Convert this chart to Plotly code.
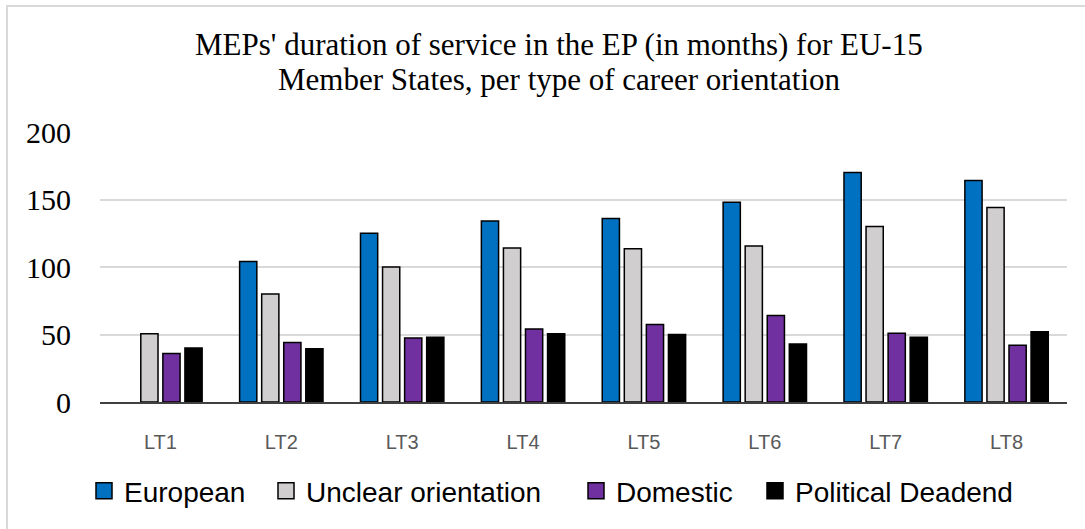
import plotly.graph_objects as go

categories = ["LT1", "LT2", "LT3", "LT4", "LT5", "LT6", "LT7", "LT8"]
european = [None, 104, 125, 134, 136, 148, 170, 164]
unclear = [50.5, 80, 100, 114, 113.5, 115.5, 130, 144]
domestic = [36, 44, 47.5, 54, 57.5, 64, 51, 42]
deadend = [40, 39.5, 48, 50.5, 50, 43, 48, 52]

title_lines = [
    "MEPs' duration of service in the EP (in months) for EU-15",
    "Member States, per type of career orientation",
]

series = [
    ("European", european, "#0070C0"),
    ("Unclear orientation", unclear, "#D0CECE"),
    ("Domestic", domestic, "#7030A0"),
    ("Political Deadend", deadend, "#000000"),
]

W, H = 1085, 529
left, right, top, bottom = 100, 1067, 132, 402
pw, ph = right - left, bottom - top

# left edge of each legend entry (pixels), Excel spaces them unevenly
legend_lefts = [84, 266, 576, 755]


def px_x(p):
    return (p - left) / pw


def px_y(p):
    return (bottom - p) / ph


fig = go.Figure()
for name, vals, color in series:
    fig.add_trace(go.Bar(
        x=categories, y=vals, name=name, showlegend=False,
        marker=dict(color=color, line=dict(color="#000000", width=1.5)),
    ))

# legend-only square markers (bigger than plotly's default bar icon)
legend_font = dict(family="Liberation Sans", size=28, color="#000000")
legends = {}
for i, (name, vals, color) in enumerate(series):
    key = "legend" if i == 0 else f"legend{i + 1}"
    fig.add_trace(go.Scatter(
        x=[None], y=[None], name=name, mode="markers", legend=key,
        marker=dict(symbol="square", size=16, color=color,
                    line=dict(color="#000000", width=1.5)),
    ))
    legends[key] = dict(
        x=px_x(legend_lefts[i]), xanchor="left",
        y=px_y(491), yanchor="middle",
        font=legend_font, bgcolor="rgba(0,0,0,0)", itemwidth=30,
    )

# two annotations instead of a <br> title: Excel uses tight line spacing
annotations = []
for i, line in enumerate(title_lines):
    annotations.append(dict(
        text=line, showarrow=False,
        xref="paper", yref="paper",
        x=px_x(559), xanchor="center",
        y=px_y(44 + 35 * i), yanchor="middle",
        font=dict(family="Liberation Serif", size=31, color="#000000"),
    ))

fig.update_layout(
    width=W, height=H,
    margin=dict(l=left, r=W - right, t=top, b=H - bottom),
    paper_bgcolor="white", plot_bgcolor="white",
    barmode="group", bargap=0.27, bargroupgap=0.22,
    annotations=annotations,
    xaxis=dict(
        showgrid=False, showline=True, linecolor="#404040", linewidth=1.5,
        tickfont=dict(family="Liberation Sans", size=20, color="#595959"),
        ticks="", ticklabelstandoff=21,
    ),
    yaxis=dict(
        range=[0, 200], tickvals=[0, 50, 100, 150, 200],
        showgrid=True, gridcolor="#D9D9D9", gridwidth=1.5,
        zeroline=False, showline=False,
        tickfont=dict(family="Liberation Serif", size=30, color="#000000"),
        ticks="", ticklabelstandoff=28,
    ),
    shapes=[dict(
        type="rect", xref="paper", yref="paper",
        x0=px_x(7), x1=px_x(1100), y0=px_y(540), y1=px_y(6),
        line=dict(color="#D9D9D9", width=2), fillcolor="rgba(0,0,0,0)",
        layer="below",
    )],
    **legends,
)

fig.write_html(
    "out.html",
    config={"displayModeBar": False},
    post_script="document.body.style.margin='0';",
)
